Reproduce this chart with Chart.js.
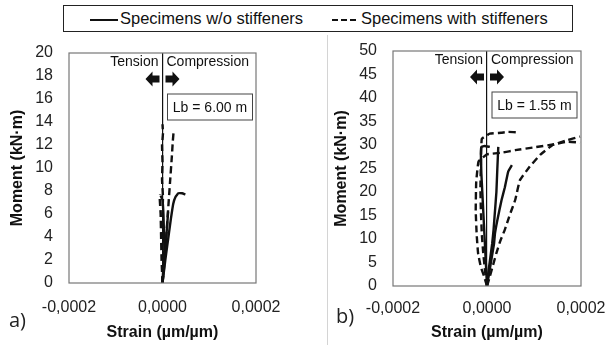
<!DOCTYPE html>
<html>
<head>
<meta charset="utf-8">
<script src="https://cdn.jsdelivr.net/npm/chart.js@4.4.1/dist/chart.umd.min.js"></script>
<style>
    body { margin: 0; background: #fff; }
    #page { position: relative; width: 607px; height: 345px; overflow: hidden; font-family: "Liberation Sans", Arial, sans-serif; color: #111; }
    .panel { position: absolute; top: 40px; height: 305px; }
    #panelA { left: 0; width: 300px; }
    #panelB { left: 327px; width: 280px; }
    #legend { position: absolute; left: 63px; top: 5px; width: 508px; height: 25px; border: 1.5px solid #222; font-size: 16.5px; }
    #legend span { position: absolute; top: 3px; white-space: nowrap; }
    .sample { position: absolute; top: 13px; width: 28px; height: 0; border-top: 2px solid #111; }
    .sample.dash { border-top: 2px dashed #111; width: 24px; }
    #divider { position: absolute; left: 327px; top: 35px; width: 1px; height: 310px; background: #d4d4d4; }
    .tag { position: absolute; font-family: "Open Sans", sans-serif; font-size: 20px; color: #222; }
</style>
</head>
<body>
<div id="page">
    <div id="legend">
        <div class="sample" style="left:26px"></div>
        <span style="left:56px">Specimens w/o stiffeners</span>
        <div class="sample dash" style="left:268px"></div>
        <span style="left:297px">Specimens with stiffeners</span>
    </div>
    <div id="divider"></div>
    <div class="panel" id="panelA"><canvas id="chartA"></canvas></div>
    <div class="panel" id="panelB"><canvas id="chartB"></canvas></div>
    <div class="tag" style="left:9px; top:306px">a)</div>
    <div class="tag" style="left:336px; top:302px">b)</div>
</div>
<script>
// strain ticks (both panels)
const strainTicks = [-0.0002, 0, 0.0002];

// panel a) Lb = 6.00 m
const aSolid1X = [0, 0.000003, 0.000006, 0.00001, 0.000014, 0.000018, 0.000023, 0.000028, 0.000034, 0.000042, 0.000049];
const aSolid1Y = [0, 1, 2, 3.2, 4.4, 5.6, 6.9, 7.5, 7.8, 7.8, 7.7];
const aSolid2X = [0, 0.000002, 0.000004, 0.000003, 0.000002, 0, -0.000004];
const aSolid2Y = [0, 1.5, 3, 4.5, 6, 7.2, 7.6];
const aSolid3X = [0, 0.000003, 0.000006, 0.000009, 0.000011, 0.000012];
const aSolid3Y = [0, 1.5, 3, 4.5, 5.6, 6.2];
const aDash1X = [0, 0.000002, 0, -0.000002, 0, 0.000001, -0.000001, 0, -0.000001, 0.000001, 0];
const aDash1Y = [0, 1.5, 3, 4.5, 6, 7.5, 9, 10.5, 12, 13, 13.8];
const aDash2X = [0, 0.000003, 0.000005, 0.00001, 0.000016, 0.00002, 0.000022, 0.000024];
const aDash2Y = [0, 1.2, 2.3, 5.2, 8.7, 11, 12.3, 13.3];
const aDash3X = [0, -0.000002, -0.000003, -0.000004, -0.000006, -0.000005];
const aDash3Y = [0, 2, 4, 6, 7.4, 7.7];

// panel b) Lb = 1.55 m
const bSolid1X = [0, -0.000002, -0.000004, -0.000006, -0.000008, -0.00001, -0.000012, -0.000013, -0.000012, -0.000005, 0.000006];
const bSolid1Y = [0, 4, 8, 12, 16, 20, 24, 28, 29.6, 29.8, 29.6];
const bSolid2X = [0, 0.000003, 0.000007, 0.000011, 0.000014, 0.000017, 0.00002, 0.000022, 0.000024];
const bSolid2Y = [0, 3, 6, 9, 12, 16, 20, 25, 29.6];
const bSolid3X = [0, 0.000005, 0.00001, 0.000015, 0.000017, 0.000022, 0.000031, 0.000038, 0.000045, 0.000053];
const bSolid3Y = [0, 3, 6, 9, 11.2, 14, 18.3, 21, 24.3, 25.7];
const bDash1X = [0, -0.000004, -0.000008, -0.000011, -0.000013, -0.000014, -0.000013, -0.000011, 0.000006, 0.00003, 0.000045, 0.000066];
const bDash1Y = [0, 3, 7, 11, 16, 21, 26, 31.3, 32.4, 32.6, 32.8, 32.7];
const bDash2X = [0, 0.000006, 0.000013, 0.00002, 0.000028, 0.000038, 0.000048, 0.00006, 0.00007, 0.000091, 0.000113, 0.00014, 0.00017, 0.000198];
const bDash2Y = [0, 2, 4.5, 7, 9.5, 12, 15, 18.3, 22.5, 25.4, 27.9, 30, 31, 31.8];
const bDash3X = [0, -0.000006, -0.000013, -0.000019, -0.000022, -0.000024, -0.000023, -0.000018, 0, 0.000034, 0.00006, 0.0001, 0.00014, 0.00017, 0.000198];
const bDash3Y = [0, 2, 4, 7, 11, 16, 22, 26.5, 28, 28.4, 28.9, 29.5, 30.1, 30.7, 30.5];

function pts(xs, ys) {
    return xs.map((x, i) => ({ x: x, y: ys[i] }));
}

function curve(xs, ys, dashed) {
    return {
        data: pts(xs, ys),
        showLine: true,
        borderColor: '#111',
        borderWidth: 2.4,
        borderDash: dashed ? [7, 4] : [],
        pointRadius: 0,
        tension: 0.1
    };
}

// frame, Tension/Compression labels, arrows and Lb box
const annotations = {
    id: 'annotations',
    afterDatasetsDraw(chart, args, opts) {
        const ctx = chart.ctx;
        const a = chart.chartArea;
        const x0 = chart.scales.x.getPixelForValue(0);
        ctx.save();

        ctx.strokeStyle = '#777';
        ctx.lineWidth = 1.2;
        ctx.strokeRect(a.left, a.top, a.right - a.left, a.bottom - a.top);

        ctx.beginPath();
        ctx.rect(a.left, a.top, a.right - a.left, a.bottom - a.top);
        ctx.clip();

        ctx.fillStyle = '#111';
        ctx.font = '14px "Liberation Sans", Arial, sans-serif';
        ctx.textBaseline = 'middle';
        ctx.textAlign = 'right';
        ctx.fillText('Tension', x0 - 4, a.top + 9);
        ctx.textAlign = 'left';
        ctx.fillText('Compression', x0 + 4, a.top + 9);

        // arrows
        const ay = a.top + 26;
        [-1, 1].forEach(dir => {
            const base = x0 + dir * 3;
            ctx.beginPath();
            ctx.moveTo(base, ay - 3.5);
            ctx.lineTo(base + dir * 7, ay - 3.5);
            ctx.lineTo(base + dir * 7, ay - 7.5);
            ctx.lineTo(base + dir * 14, ay);
            ctx.lineTo(base + dir * 7, ay + 7.5);
            ctx.lineTo(base + dir * 7, ay + 3.5);
            ctx.lineTo(base, ay + 3.5);
            ctx.closePath();
            ctx.fill();
        });

        // Lb box
        const bx = x0 + 5, by = a.top + 41, bw = 85, bh = 26;
        ctx.fillStyle = '#fff';
        ctx.fillRect(bx, by, bw, bh);
        ctx.strokeStyle = '#444';
        ctx.lineWidth = 1;
        ctx.strokeRect(bx, by, bw, bh);
        ctx.fillStyle = '#111';
        ctx.textAlign = 'center';
        ctx.fillText(opts.label, bx + bw / 2, by + bh / 2 + 1);
        ctx.restore();
    }
};

function makeChart(id, datasets, yMax, yStep, lb, pad, yWidth, xHeight, xPad, yTitlePad) {
    return new Chart(document.getElementById(id), {
        type: 'scatter',
        data: { datasets: datasets },
        options: {
            responsive: true,
            maintainAspectRatio: false,
            animation: false,
            layout: { padding: pad },
            plugins: {
                legend: { display: false },
                tooltip: { enabled: false },
                annotations: { label: lb }
            },
            scales: {
                x: {
                    type: 'linear',
                    min: strainTicks[0],
                    max: strainTicks[strainTicks.length - 1],
                    afterBuildTicks: s => { s.ticks = strainTicks.map(v => ({ value: v })); },
                    afterFit: s => { s.height = xHeight; },
                    border: { display: false },
                    grid: {
                        drawTicks: true,
                        tickLength: xPad,
                        tickColor: 'rgba(0,0,0,0)',
                        color: c => (c.tick && Math.abs(c.tick.value) < 1e-12) ? '#111' : 'rgba(0,0,0,0)',
                        lineWidth: 1.2
                    },
                    ticks: {
                        autoSkip: false,
                        maxRotation: 0,
                        padding: 0,
                        color: '#222',
                        font: { family: '"Liberation Sans", Arial, sans-serif', size: 16 },
                        callback: v => (Math.abs(v) < 1e-12 ? 0 : v).toFixed(4).replace('.', ',')
                    },
                    title: {
                        display: true,
                        text: 'Strain (µm/µm)',
                        color: '#111',
                        padding: { top: 0, bottom: 3 },
                        font: { family: '"Liberation Sans", Arial, sans-serif', size: 16, weight: 'bold' }
                    }
                },
                y: {
                    min: 0,
                    max: yMax,
                    afterFit: s => { s.width = yWidth; },
                    border: { display: false },
                    grid: { display: false, drawTicks: true, tickLength: 16 },
                    ticks: {
                        stepSize: yStep,
                        autoSkip: false,
                        padding: 0,
                        color: '#222',
                        font: { family: '"Liberation Sans", Arial, sans-serif', size: 16 }
                    },
                    title: {
                        display: true,
                        text: 'Moment (kN·m)',
                        color: '#111',
                        padding: { top: yTitlePad, bottom: 0 },
                        font: { family: '"Liberation Sans", Arial, sans-serif', size: 16, weight: 'bold' }
                    }
                }
            }
        },
        plugins: [annotations]
    });
}

makeChart('chartA', [
    curve(aDash1X, aDash1Y, true),
    curve(aDash2X, aDash2Y, true),
    curve(aDash3X, aDash3Y, true),
    curve(aSolid1X, aSolid1Y, false),
    curve(aSolid2X, aSolid2Y, false),
    curve(aSolid3X, aSolid3Y, false)
], 20, 2, 'Lb = 6.00 m', { left: 0, right: 44, top: 13, bottom: 0 }, 69, 62, 15, 8);

makeChart('chartB', [
    curve(bDash1X, bDash1Y, true),
    curve(bDash2X, bDash2Y, true),
    curve(bDash3X, bDash3Y, true),
    curve(bSolid1X, bSolid1Y, false),
    curve(bSolid2X, bSolid2Y, false),
    curve(bSolid3X, bSolid3Y, false)
], 50, 5, 'Lb = 1.55 m', { left: 0, right: 26, top: 11, bottom: 0 }, 66, 59, 13, 5);
</script>
</body>
</html>
